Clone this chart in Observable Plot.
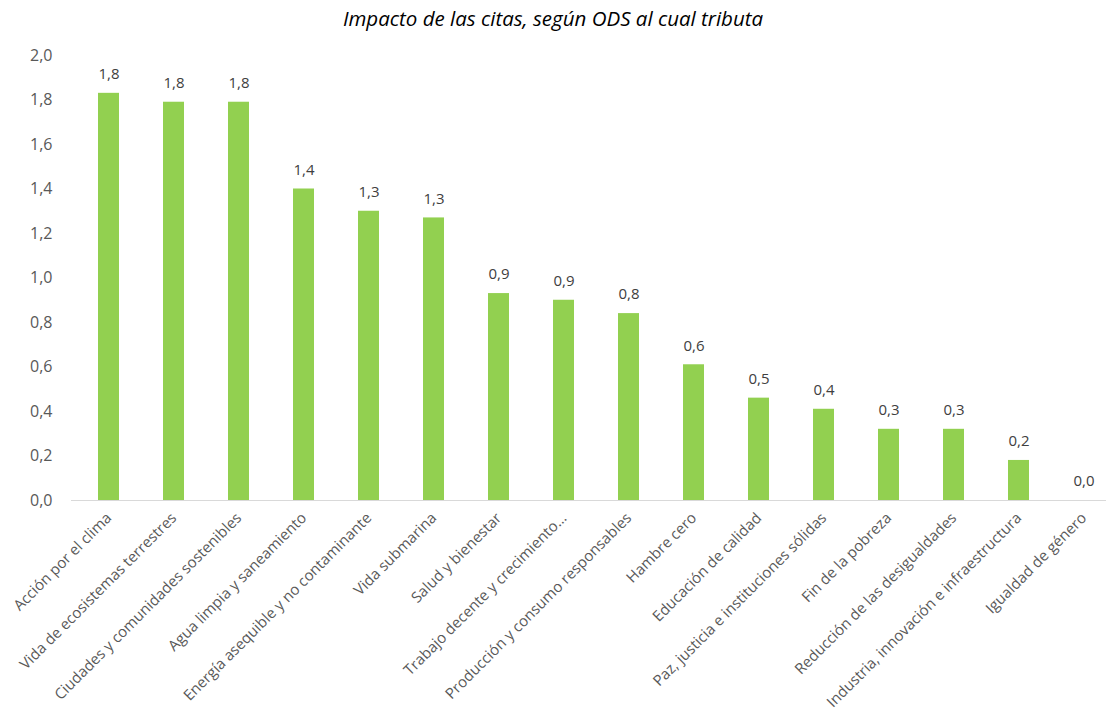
<!DOCTYPE html>
<html>
<head>
<meta charset="utf-8">
<script src="https://cdn.jsdelivr.net/npm/d3@7"></script>
<script src="https://cdn.jsdelivr.net/npm/@observablehq/plot@0.6"></script>
<style>
  html, body { margin: 0; padding: 0; background: #fff; }
  #title { font-family: "Open Sans", sans-serif; font-style: italic; font-size: 20.5px; color: #000; text-align: center; height: 36px; line-height: 36px; width: 1106px; }
</style>
</head>
<body>
<div id="title">Impacto de las citas, según ODS al cual tributa</div>
<div id="chart"></div>
<script>
const categories = [
  "Acción por el clima",
  "Vida de ecosistemas terrestres",
  "Ciudades y comunidades sostenibles",
  "Agua limpia y saneamiento",
  "Energía asequible y no contaminante",
  "Vida submarina",
  "Salud y bienestar",
  "Trabajo decente y crecimiento…",
  "Producción y consumo responsables",
  "Hambre cero",
  "Educación de calidad",
  "Paz, justicia e instituciones sólidas",
  "Fin de la pobreza",
  "Reducción de las desigualdades",
  "Industria, innovación e infraestructura",
  "Igualdad de género"
];
const values = [1.83, 1.79, 1.79, 1.40, 1.30, 1.27, 0.93, 0.90, 0.84, 0.61, 0.46, 0.41, 0.32, 0.32, 0.18, 0.0];
const yTicks = [0, 0.2, 0.4, 0.6, 0.8, 1.0, 1.2, 1.4, 1.6, 1.8, 2.0];

const data = categories.map((c, i) => ({ cat: c, value: values[i] }));
const fmt = d => d.toFixed(1).replace(".", ",");

const chart = Plot.plot({
  width: 1106,
  height: 686,
  marginLeft: 71,
  marginRight: 0,
  marginTop: 19,
  marginBottom: 222,
  style: { fontFamily: "Open Sans, sans-serif", background: "#fff" },
  x: { domain: categories, range: [71, 1120], paddingInner: 0.68, paddingOuter: 0.34, label: null },
  y: { domain: [0, 2], range: [464, 19], label: null },
  marks: [
    Plot.barY(data, { x: "cat", y: "value", fill: "#92D050" }),
    Plot.ruleY([0], { stroke: "#d9d9d9", strokeWidth: 1.2 }),
    Plot.text(data, { x: "cat", y: "value", text: d => fmt(d.value), dy: -19, fill: "#404040", fontSize: 15 }),
    Plot.axisY({ ticks: yTicks, tickSize: 0, tickPadding: 19, tickFormat: fmt, fontSize: 16, fill: "#595959", label: null }),
    Plot.axisX({ tickSize: 0, tickRotate: -45, tickPadding: 15, fontSize: 15, fill: "#595959", label: null })
  ]
});
document.getElementById("chart").appendChild(chart);
</script>
</body>
</html>
